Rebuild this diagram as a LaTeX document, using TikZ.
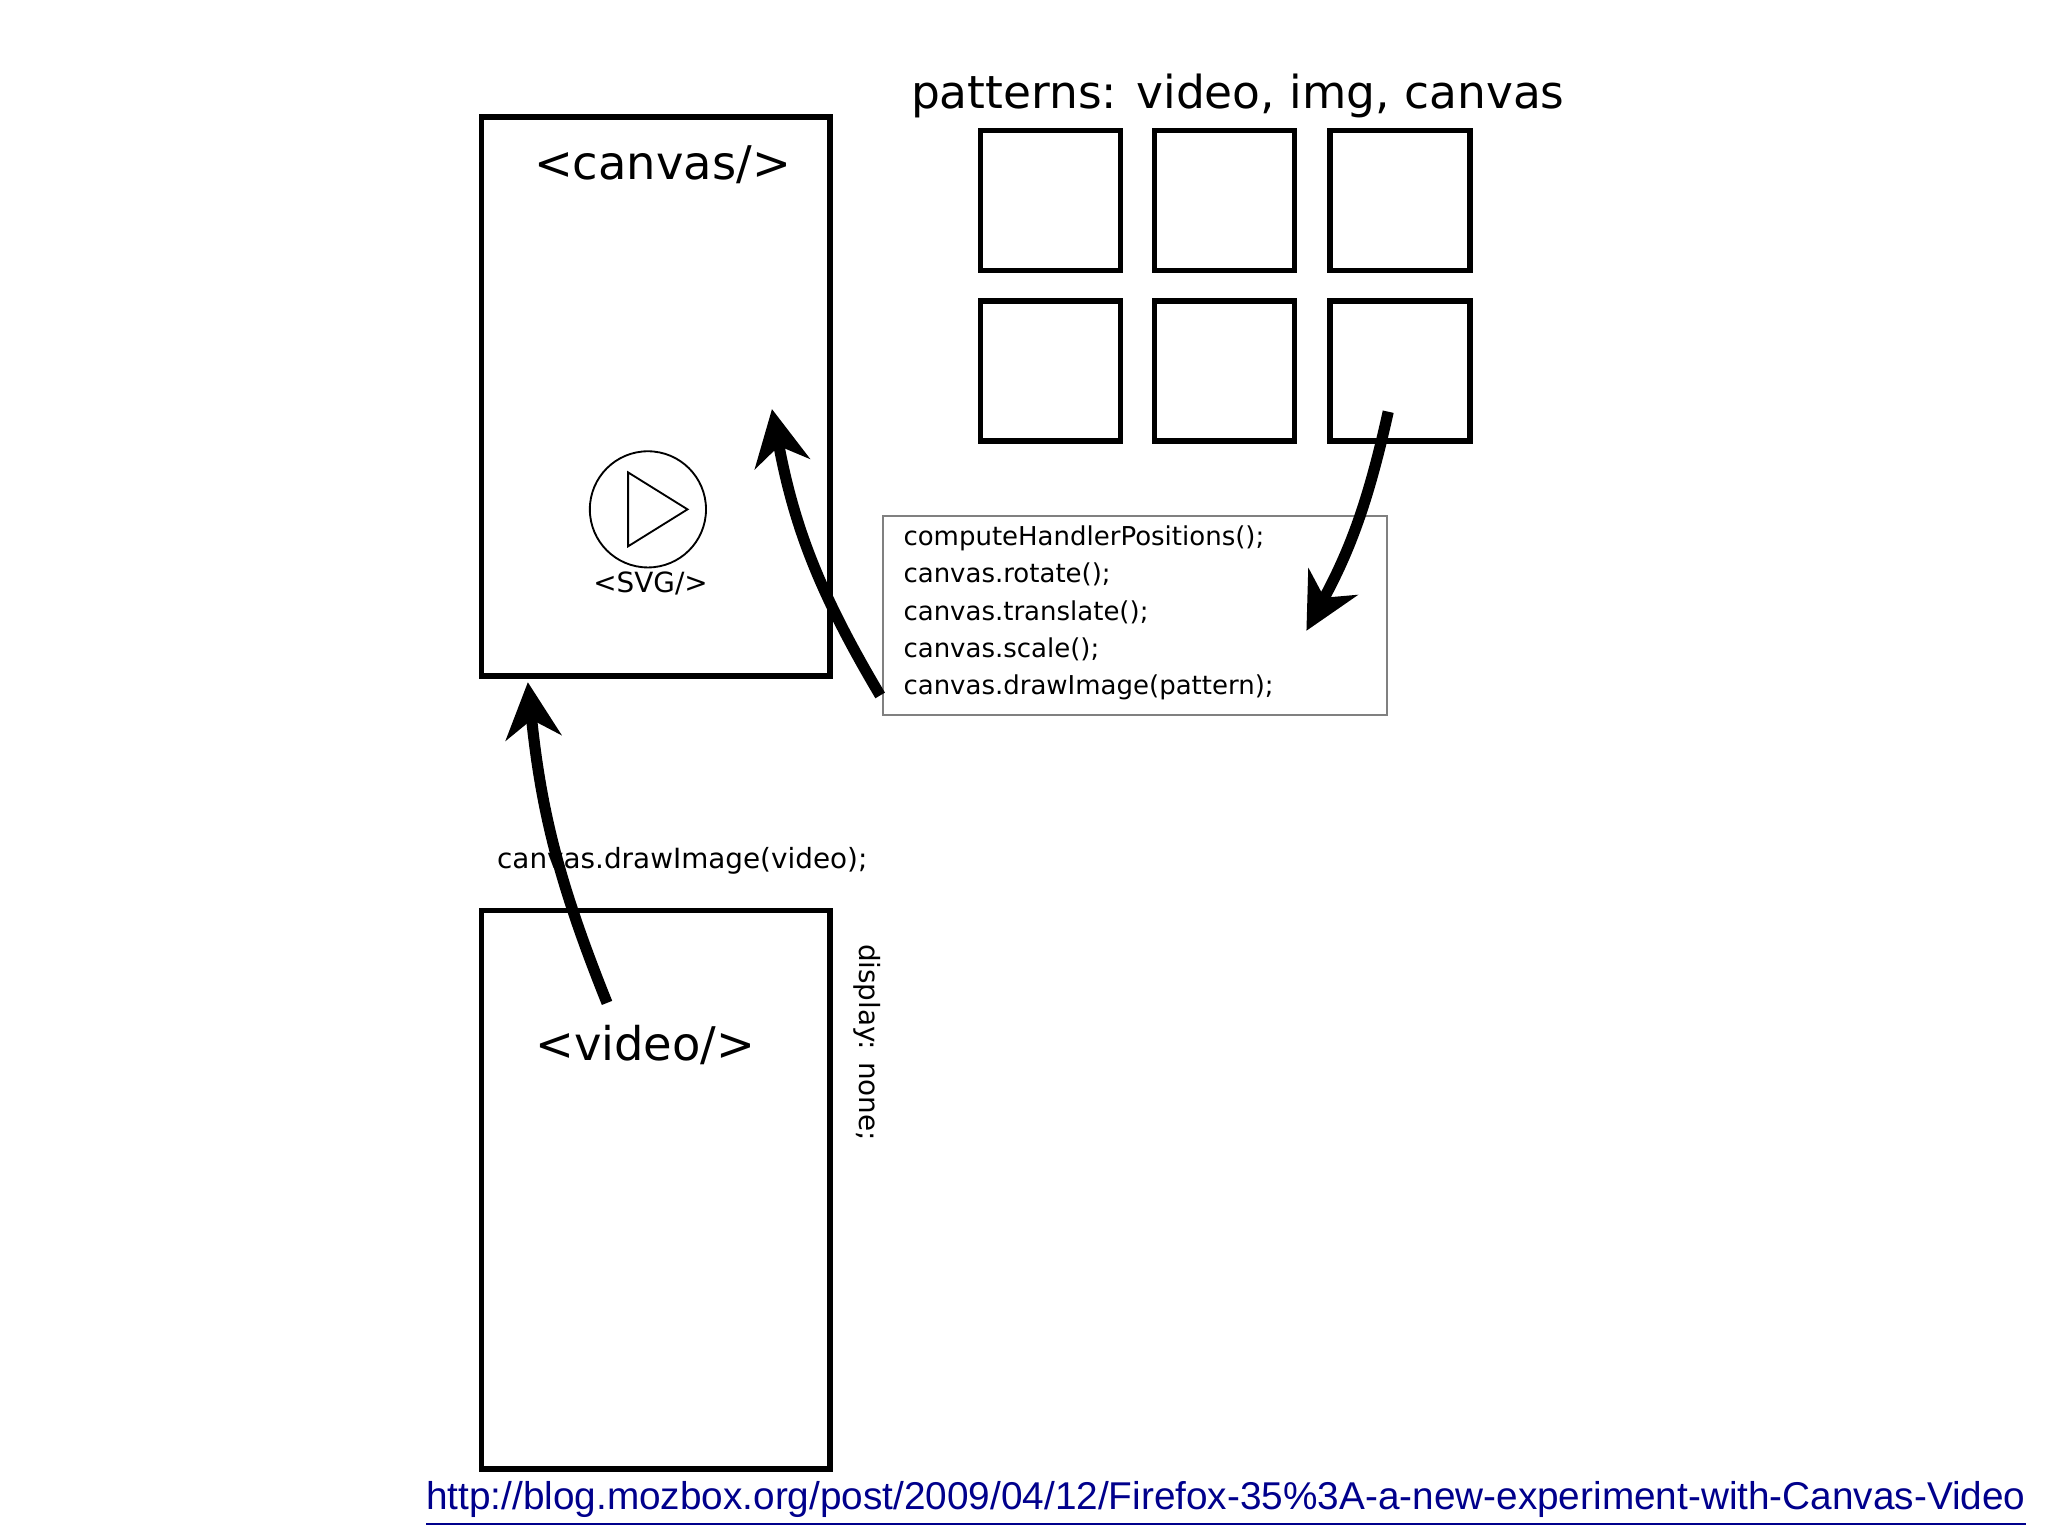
\documentclass[tikz,border=0pt]{standalone}
\usepackage{fontspec}
\setmainfont{DejaVu Sans}
\newfontfamily\linkfont{Liberation Sans}
\usetikzlibrary{arrows.meta,positioning}
\begin{document}
\begin{tikzpicture}[x=0.01cm,y=-0.01cm,
  bigbox/.style={draw,line width=1.2pt,inner sep=0pt},
  tile/.style={draw,line width=1.2pt,minimum size=1.06cm,inner sep=0pt},
  fat/.style={-{Stealth[length=12pt,width=12pt]},line width=2.4pt}]
   \useasboundingbox (0,0) rectangle (1552,1164);
   \node[bigbox,minimum width=2.64cm,minimum height=4.23cm] (canvas) at (497,300.5) {};
   \node[font=\fontsize{10}{12}\selectfont] (ctitle) at (502,125) {<canvas/>};
   \node[draw,circle,minimum size=0.88cm,inner sep=0pt] (play) at (491,386) {};
   \draw (476,358) -- (476,414) -- (521,386) -- cycle;
   \node[font=\fontsize{6}{7}\selectfont] (svg) at (493,442) {<SVG/>};
   \node[font=\fontsize{9.8}{12}\selectfont] (ptitle) at (938,73) {patterns: video, img, canvas};
   \foreach \i/\x in {1/796,2/928,3/1061} {
     \node[tile] (t\i) at (\x,152) {};
     \node[tile] (b\i) at (\x,281) {};
   }
   \node[draw=gray,line width=0.5pt,minimum width=3.82cm,minimum height=1.51cm,inner sep=0pt] (code) at (860,466.5) {};
   \node[anchor=north west,align=left,font=\fontsize{5.6}{8}\selectfont,inner sep=0pt] (codetxt) at (684,398) {computeHandlerPositions();\\canvas.rotate();\\canvas.translate();\\canvas.scale();\\canvas.drawImage(pattern);};
   \node[bigbox,minimum width=2.64cm,minimum height=4.23cm] (video) at (497,901.5) {};
   \node[font=\fontsize{10}{12}\selectfont] (vtitle) at (489,792) {<video/>};
   \node[rotate=-90,font=\fontsize{6}{7}\selectfont] (disp) at (657,790) {display: none;};
   \node[font=\fontsize{6}{7}\selectfont] (dvid) at (517,652) {canvas.drawImage(video);};
   \coordinate (c1) at (667,527);
   \coordinate (c2) at (585,310);
   \coordinate (p1) at (1052,312);
   \coordinate (p2) at (990,478);
   \coordinate (v1) at (460,760);
   \coordinate (v2) at (400,517);
   \draw[fat] (c1) to[bend left=10] (c2);
   \draw[fat] (p1) to[bend left=8] (p2);
   \draw[fat] (v1) to[bend left=8] (v2);
   \node[text=blue!55!black,font=\linkfont\fontsize{8.35}{9}\selectfont] (link) at (929,1140) {\underline{http://blog.mozbox.org/post/2009/04/12/Firefox-35\%3A-a-new-experiment-with-Canvas-Video}};
\end{tikzpicture}
\end{document}
